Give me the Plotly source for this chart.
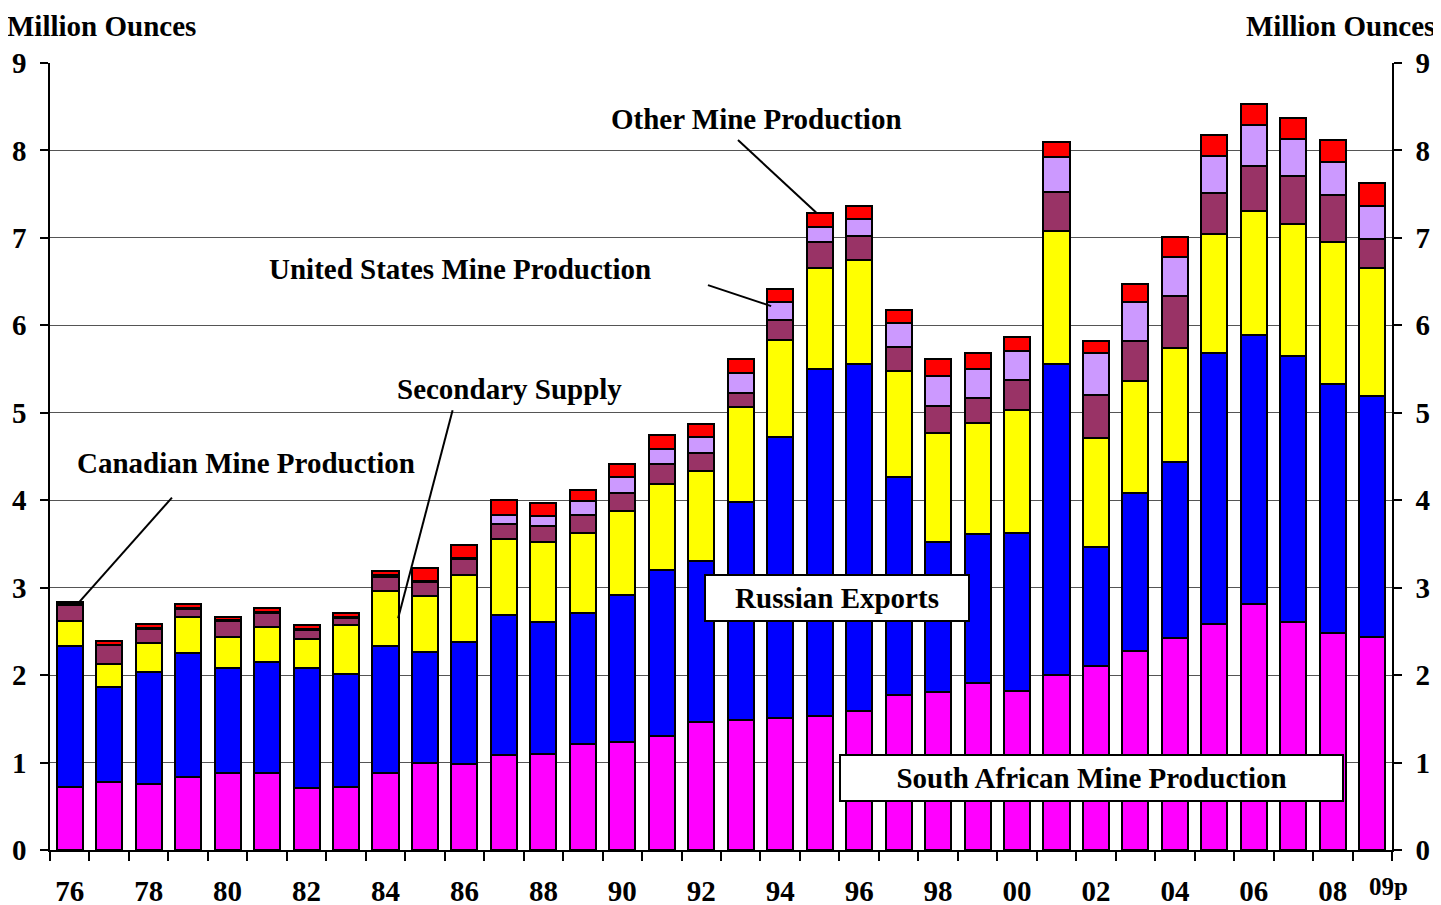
import plotly.graph_objects as go

years = ["76","77","78","79","80","81","82","83","84","85","86","87","88","89","90",
         "91","92","93","94","95","96","97","98","99","00","01","02","03","04","05",
         "06","07","08","09p"]

south_africa = [0.72,0.78,0.76,0.83,0.88,0.88,0.71,0.72,0.88,1.00,0.98,1.09,1.10,1.21,1.23,
                1.30,1.46,1.49,1.51,1.53,1.59,1.77,1.81,1.91,1.82,2.00,2.10,2.28,2.43,2.58,
                2.81,2.61,2.48,2.44]
russia = [1.61,1.08,1.28,1.42,1.20,1.27,1.37,1.29,1.45,1.26,1.40,1.60,1.51,1.50,1.69,
          1.90,1.85,2.49,3.21,3.97,3.97,2.50,1.71,1.70,1.81,3.56,1.36,1.80,2.01,3.10,
          3.08,3.04,2.85,2.75]
secondary = [0.29,0.27,0.33,0.42,0.36,0.40,0.33,0.56,0.63,0.64,0.76,0.87,0.91,0.92,0.96,
             0.99,1.02,1.09,1.11,1.16,1.19,1.21,1.25,1.27,1.40,1.52,1.25,1.28,1.30,1.36,
             1.42,1.51,1.62,1.47]
canada = [0.18,0.21,0.16,0.09,0.18,0.16,0.11,0.08,0.16,0.17,0.19,0.17,0.19,0.20,0.20,
          0.23,0.21,0.16,0.23,0.29,0.27,0.27,0.31,0.29,0.34,0.44,0.49,0.46,0.60,0.47,
          0.51,0.55,0.54,0.33]
united_states = [0.02,0.01,0.01,0.01,0.01,0.01,0.01,0.01,0.02,0.01,0.01,0.10,0.11,0.16,0.19,
                 0.17,0.18,0.23,0.21,0.18,0.20,0.28,0.34,0.33,0.34,0.41,0.48,0.45,0.44,0.43,
                 0.47,0.42,0.38,0.38]
other = [0.02,0.04,0.04,0.04,0.04,0.05,0.04,0.05,0.05,0.14,0.15,0.17,0.15,0.13,0.15,
         0.16,0.15,0.16,0.15,0.15,0.15,0.15,0.19,0.18,0.16,0.17,0.14,0.20,0.23,0.24,
         0.24,0.24,0.25,0.26]

series = [
    ("South African Mine Production", south_africa, "#FF00FF"),
    ("Russian Exports", russia, "#0000FF"),
    ("Secondary Supply", secondary, "#FFFF00"),
    ("Canadian Mine Production", canada, "#993366"),
    ("United States Mine Production", united_states, "#CC99FF"),
    ("Other Mine Production", other, "#FF0000"),
]

FONT = "Liberation Serif"
xs = list(range(len(years)))

fig = go.Figure()
for name, vals, col in series:
    fig.add_trace(go.Bar(x=xs, y=vals, name=name, width=0.66,
                         marker=dict(color=col, line=dict(color="black", width=2))))

label_idx = [i for i in xs if i % 2 == 0]
label_txt = [years[i] for i in label_idx]
last = len(years) - 1

tickfont = dict(size=29, family=FONT, weight="bold", color="black")
fig.update_layout(
    barmode="stack",
    width=1441, height=905,
    margin=dict(l=42, r=57, t=55, b=63),
    plot_bgcolor="white", paper_bgcolor="white",
    showlegend=False,
    font=dict(family=FONT, color="black"),
    xaxis=dict(range=[-0.5, len(years) - 0.5], tickmode="array", automargin=False,
               tickvals=label_idx, ticktext=label_txt, ticks="", ticklabelstandoff=14,
               tickangle=0, tickfont=tickfont,
               showline=True, linecolor="black", linewidth=2, showgrid=False, zeroline=False,
               minor=dict(tickmode="linear", tick0=-0.5, dtick=1, ticks="outside",
                          ticklen=9, tickwidth=2, tickcolor="black", showgrid=False)),
    yaxis=dict(range=[0, 9], dtick=1, ticks="outside", ticklen=8, tickwidth=1.5,
               tickcolor="black", showline=True, linecolor="black", linewidth=1.5,
               gridcolor="#555555", gridwidth=1, zeroline=False, ticklabelstandoff=8,
               automargin=False, tickfont=tickfont),
    yaxis2=dict(range=[0, 9], dtick=1, overlaying="y", side="right", ticks="outside",
                ticklen=8, tickwidth=1.5, tickcolor="black", showline=True,
                linecolor="black", linewidth=1.5, showgrid=False, zeroline=False,
                automargin=False, ticklabelstandoff=8, tickfont=tickfont),
)
# invisible trace to activate the right axis
fig.add_trace(go.Scatter(x=[0], y=[0], yaxis="y2", mode="markers",
                         marker=dict(opacity=0), hoverinfo="skip", showlegend=False))

# last (provisional) year label, smaller and offset as in the original
fig.add_annotation(text=years[last], x=last, y=0, xref="x", yref="y", showarrow=False,
                   xshift=16, yshift=-36, yanchor="middle",
                   font=dict(family=FONT, size=25, color="black", weight="bold"))

lab_font = dict(family=FONT, size=29, color="black", weight="bold")
# header texts
fig.add_annotation(text="Million Ounces", xref="paper", yref="paper", x=-0.0335, y=1.0,
                   yshift=55, xanchor="left", yanchor="top", showarrow=False, font=lab_font)
fig.add_annotation(text="Million Ounces", xref="paper", yref="paper", x=1.0335, y=1.0,
                   yshift=55, xanchor="right", yanchor="top", showarrow=False, font=lab_font)

# callout labels
callouts = [
    ("Other Mine Production", 17.41, 8.36, (16.93, 8.12, 18.91, 7.29)),
    ("United States Mine Production", 9.90, 6.64, (16.17, 6.46, 17.77, 6.22)),
    ("Secondary Supply", 11.14, 5.27, (9.70, 5.03, 8.32, 2.65)),
    ("Canadian Mine Production", 4.47, 4.43, (2.59, 4.03, 0.25, 2.84)),
]
for txt, tx, ty, (x0, y0, x1, y1) in callouts:
    fig.add_annotation(text=txt, x=tx, y=ty, xref="x", yref="y", showarrow=False,
                       font=lab_font)
    fig.add_shape(type="line", x0=x0, y0=y0, x1=x1, y1=y1, xref="x", yref="y",
                  line=dict(color="black", width=2))

# boxed labels
fig.add_annotation(text="Russian Exports", x=19.45, y=2.88, xref="x", yref="y",
                   showarrow=False, font=lab_font, bgcolor="white", bordercolor="black",
                   borderwidth=2, borderpad=2, width=258, height=40)
fig.add_annotation(text="South African Mine Production", x=25.88, y=0.82, xref="x", yref="y",
                   showarrow=False, font=lab_font, bgcolor="white", bordercolor="black",
                   borderwidth=2, borderpad=2, width=497, height=40)

fig.write_html("out.html")
